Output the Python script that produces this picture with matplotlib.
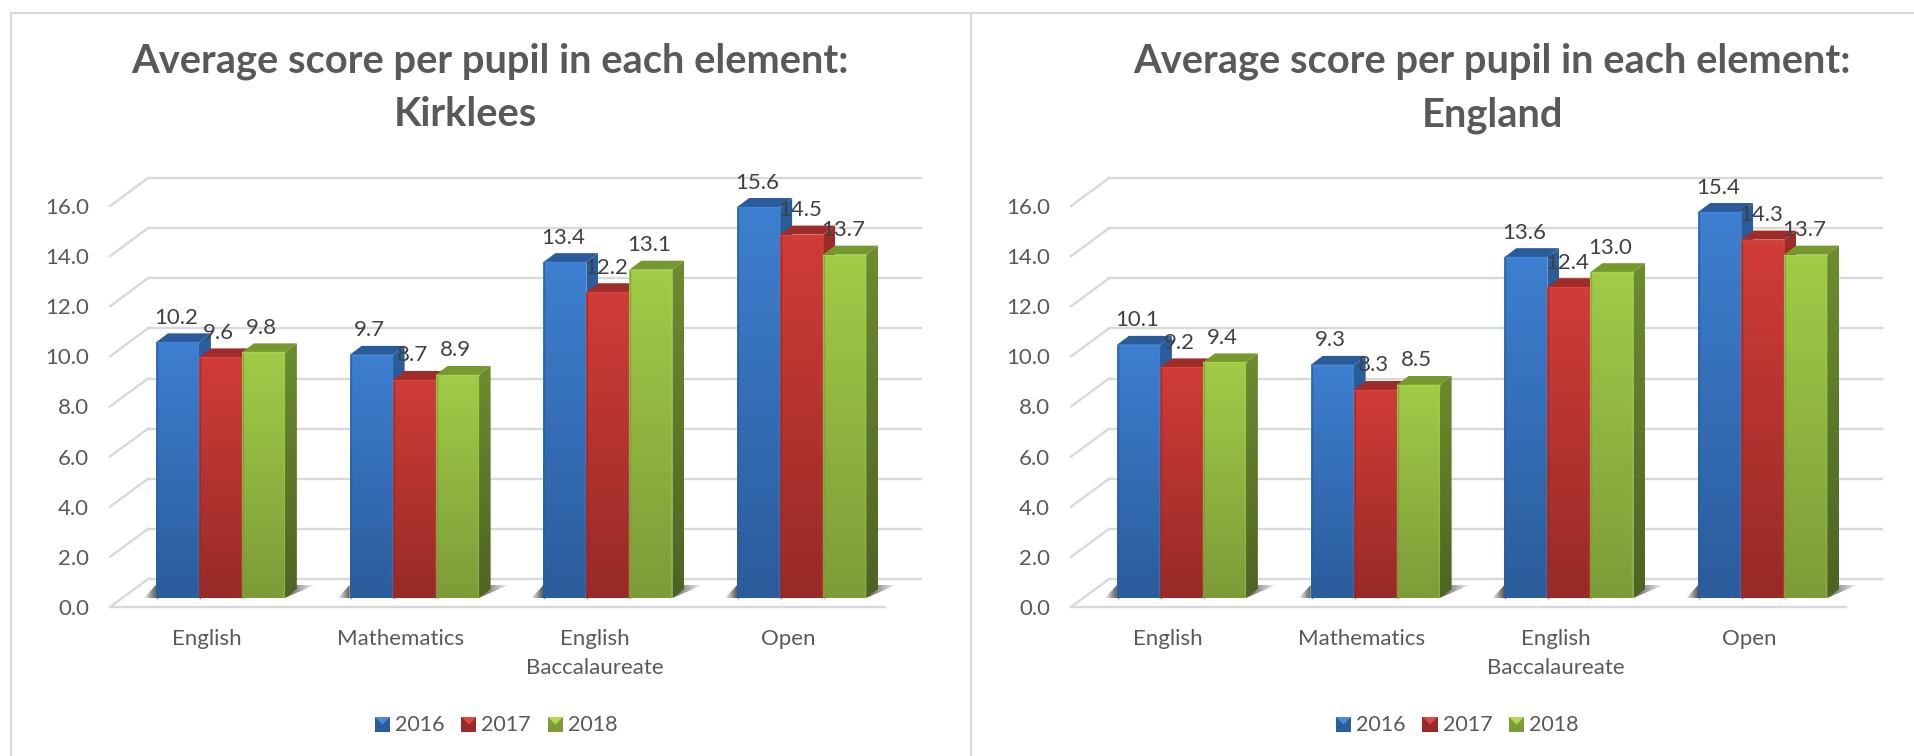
import numpy as np
import matplotlib
matplotlib.use("Agg")
import matplotlib.pyplot as plt
from matplotlib.colors import LinearSegmentedColormap
from matplotlib.patches import Polygon

W, H = 1915, 756

years = ["2016", "2017", "2018"]
categories = ["English", "Mathematics", "English\nBaccalaureate", "Open"]
kirklees_2016 = [10.2, 9.7, 13.4, 15.6]
kirklees_2017 = [9.6, 8.7, 12.2, 14.5]
kirklees_2018 = [9.8, 8.9, 13.1, 13.7]
england_2016 = [10.1, 9.3, 13.6, 15.4]
england_2017 = [9.2, 8.3, 12.4, 14.3]
england_2018 = [9.4, 8.5, 13.0, 13.7]
yticks = [0, 2, 4, 6, 8, 10, 12, 14, 16]

# front top, front bottom, top face, side top, side bottom, highlight
shades = [
    ("#3d7fd0", "#2b5c9c", "#2a5b9b", "#2a5f9f", "#1f4777", "#4a8cdc"),
    ("#d03c38", "#982a27", "#a02c29", "#a02c29", "#6f1f1d", "#dc4a46"),
    ("#a0cc48", "#7d9c38", "#76992f", "#6c8c2e", "#4d6423", "#aeda52"),
]

GRID = "#d9d9d9"
TEXT = "#404040"
SOFT = "#595959"

plt.rcParams["font.family"] = ["Lato", "DejaVu Sans"]

fig = plt.figure(figsize=(W / 100, H / 100), dpi=100, facecolor="white")


def px_axes(x0, x1, y0, y1):
    return fig.add_axes([x0 / W, 1 - y0 / H, (x1 - x0) / W, (y0 - y1) / H])


def gradient_face(ax, corners, c_top, c_bottom, zorder):
    # vertical gradient clipped to the face outline
    xs = [p[0] for p in corners]
    ys = [p[1] for p in corners]
    cmap = LinearSegmentedColormap.from_list("b", [c_top, c_bottom])
    im = ax.imshow(np.linspace(0, 1, 64).reshape(-1, 1), cmap=cmap, aspect="auto",
                   extent=(min(xs), max(xs), min(ys), max(ys)), zorder=zorder)
    im.set_clip_path(Polygon(corners, closed=True, transform=ax.transData))
    im.set_clip_box(fig.bbox)


def shadow_face(ax, corners, fade_right, zorder):
    xs = [p[0] for p in corners]
    ys = [p[1] for p in corners]
    rgba = np.zeros((1, 32, 4))
    rgba[..., :3] = 0.32
    rgba[..., 3] = np.linspace(0.95, 0.05, 32) if fade_right else np.linspace(0.05, 0.95, 32)
    im = ax.imshow(rgba, aspect="auto", extent=(min(xs), max(xs), min(ys), max(ys)), zorder=zorder)
    im.set_clip_path(Polygon(corners, closed=True, transform=ax.transData))
    im.set_clip_box(fig.bbox)


def draw_panel(left, line1, x1, line2, x2, series):
    # axes is the front plane of the chart floor
    ax = px_axes(left, left + 775, 607, 206)
    ax.patch.set_visible(False)
    for s in ax.spines.values():
        s.set_visible(False)

    ux = 775 / 4   # px per category
    uy = 401 / 16  # px per value
    back_x, back_y = 38 / ux, 28 / uy
    base = 9 / uy
    w = 43 / ux
    dx, dy = 12 / ux, 9 / uy
    shift = 13.5 / ux

    # back wall and side gridlines
    for t in yticks:
        ax.plot([-0.5, -0.5 + back_x], [t, t + back_y], color=GRID, lw=1.7,
                clip_on=False, zorder=1)
        ax.plot([-0.5 + back_x, 3.5 + back_x - 2 / ux], [t + back_y, t + back_y], color=GRID,
                lw=1.7, clip_on=False, zorder=1)
    ax.plot([-0.5, 3.5], [0, 0], color=GRID, lw=1.7, clip_on=False, zorder=1)

    for c in range(len(categories)):
        x0 = c + shift - 1.5 * w
        xr = x0 + 3 * w
        # floor shadow, left and right of the group
        shadow_face(ax, [(x0 - 12 / ux, base), (x0, base + 13 / uy), (x0, base)], False, 2)
        shadow_face(ax, [(xr, base), (xr + 12 / ux, base + 13 / uy), (xr + 30 / ux, base + 13 / uy)],
                    True, 2)
        for i, vals in enumerate(series):
            v = vals[c]
            x = x0 + i * w
            front_t, front_b, top_c, side_t, side_b, light = shades[i]
            z = 3 + i * 0.1
            top = base + v
            ax.add_patch(Polygon([(x, top), (x + dx, top + dy), (x + w + dx, top + dy), (x + w, top)],
                                 closed=True, color=top_c, lw=0, zorder=z, clip_on=False))
            gradient_face(ax, [(x + w, base), (x + w + dx, base + dy), (x + w + dx, top + dy), (x + w, top)],
                          side_t, side_b, z)
            gradient_face(ax, [(x, base), (x + w, base), (x + w, top), (x, top)], front_t, front_b, z + 0.01)
            # bevel edges on the front face
            ax.plot([x + w - 1 / ux] * 2, [base, top], color=light, alpha=0.3, lw=1.0, zorder=z + 0.02,
                    clip_on=False)
            ax.plot([x + 1 / ux] * 2, [base, top], color=front_b, alpha=0.7, lw=1.0, zorder=z + 0.02,
                    clip_on=False)
            ax.plot([x, x + w], [top, top], color=light, alpha=0.6, lw=1.0, zorder=z + 0.02, clip_on=False)
            ax.text(x + w * 0.46, top + 18.5 / uy, f"{v:.1f}", ha="center", va="baseline",
                    fontsize=16, color=TEXT, zorder=10, clip_on=False)

    ax.set_xlim(-0.5, 3.5)
    ax.set_ylim(0, 16)
    ax.set_yticks(yticks)
    ax.set_yticklabels([f"{t:.1f}" for t in yticks], fontsize=16, color=SOFT)
    ax.set_xticks(range(len(categories)))
    ax.set_xticklabels(categories, fontsize=16, color=SOFT, linespacing=1.6)
    ax.tick_params(axis="y", length=0, pad=15)
    ax.tick_params(axis="x", length=0, pad=15.5)

    fig.text(x1 / W, 1 - 73 / H, line1, ha="center", va="baseline", fontsize=28.7,
             fontweight="bold", color=SOFT)
    fig.text(x2 / W, 1 - 126 / H, line2, ha="center", va="baseline", fontsize=28.7,
             fontweight="bold", color=SOFT)

    # legend with small bevelled swatches
    lx = left + 265
    for i, y in enumerate(years):
        sx = lx + i * 86.5
        sy = 1 - 732 / H
        sw, sh = 15 / W, 15 / H
        x_ = sx / W
        fig.add_artist(Polygon([(x_, sy), (x_ + sw, sy), (x_ + sw, sy + sh), (x_, sy + sh)], closed=True,
                               transform=fig.transFigure, facecolor=shades[i][1], edgecolor="none"))
        fig.add_artist(Polygon([(x_, sy + sh), (x_ + sw, sy + sh), (x_ + sw / 2, sy + sh / 2)], closed=True,
                               transform=fig.transFigure, facecolor=shades[i][5], edgecolor="none"))
        fig.text((sx + 20) / W, 1 - 725 / H, y, ha="left", va="center", fontsize=15.5, color=SOFT)


TITLE = "Average score per pupil in each element:"
draw_panel(110, TITLE, 490, "Kirklees", 465, [kirklees_2016, kirklees_2017, kirklees_2018])
draw_panel(1071, TITLE, 1492, "England", 1492, [england_2016, england_2017, england_2018])

# chart frames
for xs, ys in [([11, 11], [756, 13]), ([11, 1915], [13, 13]), ([971, 971], [13, 756])]:
    fig.add_artist(plt.Line2D([x / W for x in xs], [1 - y / H for y in ys], color=GRID, lw=1.5))

fig.savefig("out.png", dpi=100)
